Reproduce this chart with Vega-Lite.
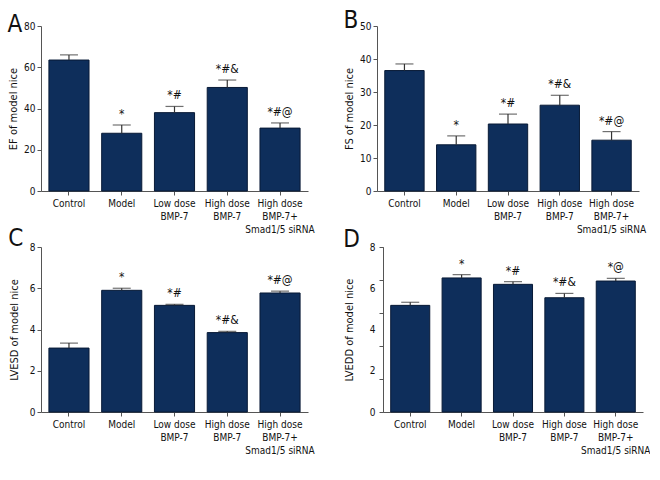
{
  "$schema": "https://vega.github.io/schema/vega-lite/v6.json",
  "padding": {"left": 7, "top": 9, "right": 0, "bottom": 0},
  "datasets": {
    "d": [
      {"panel": "A", "group": "Control", "value": 63.5, "err": 66.0, "sig": ""},
      {"panel": "A", "group": "Model", "value": 28.0, "err": 32.0, "sig": "*"},
      {"panel": "A", "group": "Low dose|BMP-7", "value": 38.0, "err": 41.0, "sig": "*#"},
      {"panel": "A", "group": "High dose|BMP-7", "value": 50.2, "err": 53.8, "sig": "*#&"},
      {"panel": "A", "group": "High dose|BMP-7+|Smad1/5 siRNA", "value": 30.5, "err": 33.0, "sig": "*#@"},
      {"panel": "B", "group": "Control", "value": 36.5, "err": 38.5, "sig": ""},
      {"panel": "B", "group": "Model", "value": 14.0, "err": 16.7, "sig": "*"},
      {"panel": "B", "group": "Low dose|BMP-7", "value": 20.3, "err": 23.3, "sig": "*#"},
      {"panel": "B", "group": "High dose|BMP-7", "value": 26.0, "err": 29.0, "sig": "*#&"},
      {"panel": "B", "group": "High dose|BMP-7+|Smad1/5 siRNA", "value": 15.4, "err": 18.0, "sig": "*#@"},
      {"panel": "C", "group": "Control", "value": 3.10, "err": 3.34, "sig": ""},
      {"panel": "C", "group": "Model", "value": 5.90, "err": 6.0, "sig": "*"},
      {"panel": "C", "group": "Low dose|BMP-7", "value": 5.17, "err": 5.22, "sig": "*#"},
      {"panel": "C", "group": "High dose|BMP-7", "value": 3.85, "err": 3.91, "sig": "*#&"},
      {"panel": "C", "group": "High dose|BMP-7+|Smad1/5 siRNA", "value": 5.77, "err": 5.86, "sig": "*#@"},
      {"panel": "D", "group": "Control", "value": 5.17, "err": 5.32, "sig": ""},
      {"panel": "D", "group": "Model", "value": 6.50, "err": 6.66, "sig": "*"},
      {"panel": "D", "group": "Low dose|BMP-7", "value": 6.19, "err": 6.32, "sig": "*#"},
      {"panel": "D", "group": "High dose|BMP-7", "value": 5.54, "err": 5.75, "sig": "*#&"},
      {"panel": "D", "group": "High dose|BMP-7+|Smad1/5 siRNA", "value": 6.35, "err": 6.48, "sig": "*@"}
    ]
  },
  "config": {
    "font": "DejaVu Sans Condensed",
    "view": {"stroke": null},
    "concat": {"spacing": 28},
    "axis": {
      "domainColor": "#555", "tickColor": "#555", "labelColor": "#111", "titleColor": "#111",
      "labelFont": "DejaVu Sans Condensed", "titleFont": "DejaVu Sans Condensed",
      "labelFontSize": 10, "titleFontSize": 11, "titleFontWeight": "normal", "grid": false, "tickSize": 4, "labelPadding": 2
    },
    "title": {"font": "DejaVu Sans Condensed", "fontSize": 24, "fontWeight": "normal", "anchor": "start", "frame": "bounds", "color": "#111", "baseline": "alphabetic"}
  },
  "vconcat": [
    {
      "spacing": 28,
      "hconcat": [
        {
          "title": {"text": "A", "offset": -16},
          "width": 267, "height": 165,
          "data": {"name": "d"},
          "transform": [{"filter": "datum.panel === 'A'"}],
          "encoding": {
            "x": {"field": "group", "type": "nominal", "sort": null, "scale": {"paddingInner": 0.24, "paddingOuter": 0.15},
                  "axis": {"title": null, "labelAngle": 0, "labelExpr": "split(datum.value, '|')", "labelLineHeight": 13, "labelPadding": 3}}
          },
          "layer": [
            {"mark": {"type": "bar", "color": "#0e2e5b", "stroke": "#081a36", "strokeWidth": 1},
             "encoding": {"y": {"field": "value", "type": "quantitative", "scale": {"domain": [0, 80]}, "axis": {"values": [0, 20, 40, 60, 80], "title": "EF of model nice", "titlePadding": 5}}}},
            {"mark": {"type": "rule", "color": "#333", "strokeWidth": 1.2}, "encoding": {"y": {"field": "value", "type": "quantitative", "axis": {"values": [0, 20, 40, 60, 80], "title": "EF of model nice", "titlePadding": 5}}, "y2": {"field": "err"}}},
            {"mark": {"type": "tick", "color": "#333", "thickness": 1.2, "size": 18, "orient": "horizontal"}, "encoding": {"y": {"field": "err", "type": "quantitative", "axis": {"values": [0, 20, 40, 60, 80], "title": "EF of model nice", "titlePadding": 5}}}},
            {"mark": {"type": "text", "fontSize": 12, "baseline": "bottom", "dy": -4, "color": "#111"}, "encoding": {"y": {"field": "err", "type": "quantitative", "axis": {"values": [0, 20, 40, 60, 80], "title": "EF of model nice", "titlePadding": 5}}, "text": {"field": "sig"}}}
          ]
        },
        {
          "title": {"text": "B", "offset": -12},
          "width": 262, "height": 165,
          "data": {"name": "d"},
          "transform": [{"filter": "datum.panel === 'B'"}],
          "encoding": {
            "x": {"field": "group", "type": "nominal", "sort": null, "scale": {"paddingInner": 0.24, "paddingOuter": 0.15},
                  "axis": {"title": null, "labelAngle": 0, "labelExpr": "split(datum.value, '|')", "labelLineHeight": 13, "labelPadding": 3}}
          },
          "layer": [
            {"mark": {"type": "bar", "color": "#0e2e5b", "stroke": "#081a36", "strokeWidth": 1},
             "encoding": {"y": {"field": "value", "type": "quantitative", "scale": {"domain": [0, 50]}, "axis": {"values": [0, 10, 20, 30, 40, 50], "title": "FS of model nice", "titlePadding": 5}}}},
            {"mark": {"type": "rule", "color": "#333", "strokeWidth": 1.2}, "encoding": {"y": {"field": "value", "type": "quantitative", "axis": {"values": [0, 10, 20, 30, 40, 50], "title": "FS of model nice", "titlePadding": 5}}, "y2": {"field": "err"}}},
            {"mark": {"type": "tick", "color": "#333", "thickness": 1.2, "size": 18, "orient": "horizontal"}, "encoding": {"y": {"field": "err", "type": "quantitative", "axis": {"values": [0, 10, 20, 30, 40, 50], "title": "FS of model nice", "titlePadding": 5}}}},
            {"mark": {"type": "text", "fontSize": 12, "baseline": "bottom", "dy": -4, "color": "#111"}, "encoding": {"y": {"field": "err", "type": "quantitative", "axis": {"values": [0, 10, 20, 30, 40, 50], "title": "FS of model nice", "titlePadding": 5}}, "text": {"field": "sig"}}}
          ]
        }
      ]
    },
    {
      "spacing": 28,
      "hconcat": [
        {
          "title": {"text": "C", "offset": -9},
          "width": 267, "height": 165,
          "data": {"name": "d"},
          "transform": [{"filter": "datum.panel === 'C'"}],
          "encoding": {
            "x": {"field": "group", "type": "nominal", "sort": null, "scale": {"paddingInner": 0.24, "paddingOuter": 0.15},
                  "axis": {"title": null, "labelAngle": 0, "labelExpr": "split(datum.value, '|')", "labelLineHeight": 13, "labelPadding": 3}}
          },
          "layer": [
            {"mark": {"type": "bar", "color": "#0e2e5b", "stroke": "#081a36", "strokeWidth": 1},
             "encoding": {"y": {"field": "value", "type": "quantitative", "scale": {"domain": [0, 8]}, "axis": {"values": [0, 2, 4, 6, 8], "title": "LVESD of model nice", "titlePadding": 10}}}},
            {"mark": {"type": "rule", "color": "#333", "strokeWidth": 1.2}, "encoding": {"y": {"field": "value", "type": "quantitative", "axis": {"values": [0, 2, 4, 6, 8], "title": "LVESD of model nice", "titlePadding": 10}}, "y2": {"field": "err"}}},
            {"mark": {"type": "tick", "color": "#333", "thickness": 1.2, "size": 18, "orient": "horizontal"}, "encoding": {"y": {"field": "err", "type": "quantitative", "axis": {"values": [0, 2, 4, 6, 8], "title": "LVESD of model nice", "titlePadding": 10}}}},
            {"mark": {"type": "text", "fontSize": 12, "baseline": "bottom", "dy": -4, "color": "#111"}, "encoding": {"y": {"field": "err", "type": "quantitative", "axis": {"values": [0, 2, 4, 6, 8], "title": "LVESD of model nice", "titlePadding": 10}}, "text": {"field": "sig"}}}
          ]
        },
        {
          "title": {"text": "D", "offset": -10},
          "width": 260, "height": 165,
          "data": {"name": "d"},
          "transform": [{"filter": "datum.panel === 'D'"}],
          "encoding": {
            "x": {"field": "group", "type": "nominal", "sort": null, "scale": {"paddingInner": 0.24, "paddingOuter": 0.15},
                  "axis": {"title": null, "labelAngle": 0, "labelExpr": "split(datum.value, '|')", "labelLineHeight": 13, "labelPadding": 3}}
          },
          "resolve": {"axis": {"y": "independent"}},
          "layer": [
            {"mark": {"type": "bar", "color": "#0e2e5b", "stroke": "#081a36", "strokeWidth": 1},
             "encoding": {"y": {"field": "value", "type": "quantitative", "scale": {"domain": [0, 8]}, "axis": {"values": [0, 2, 4, 6, 8], "ticks": false, "labelPadding": 8, "title": "LVEDD of model nice", "titlePadding": 15}}}},
            {"mark": {"type": "rule", "color": "#333", "strokeWidth": 1.2}, "encoding": {"y": {"field": "value", "type": "quantitative", "axis": {"orient": "left", "values": [0, 1.6, 3.2, 4.8, 6.4, 8], "labels": false, "title": null}}, "y2": {"field": "err"}}},
            {"mark": {"type": "tick", "color": "#333", "thickness": 1.2, "size": 18, "orient": "horizontal"}, "encoding": {"y": {"field": "err", "type": "quantitative", "axis": null}}},
            {"mark": {"type": "text", "fontSize": 12, "baseline": "bottom", "dy": -4, "color": "#111"}, "encoding": {"y": {"field": "err", "type": "quantitative", "axis": null}, "text": {"field": "sig"}}}
          ]
        }
      ]
    }
  ],
  "spacing": -7
}
